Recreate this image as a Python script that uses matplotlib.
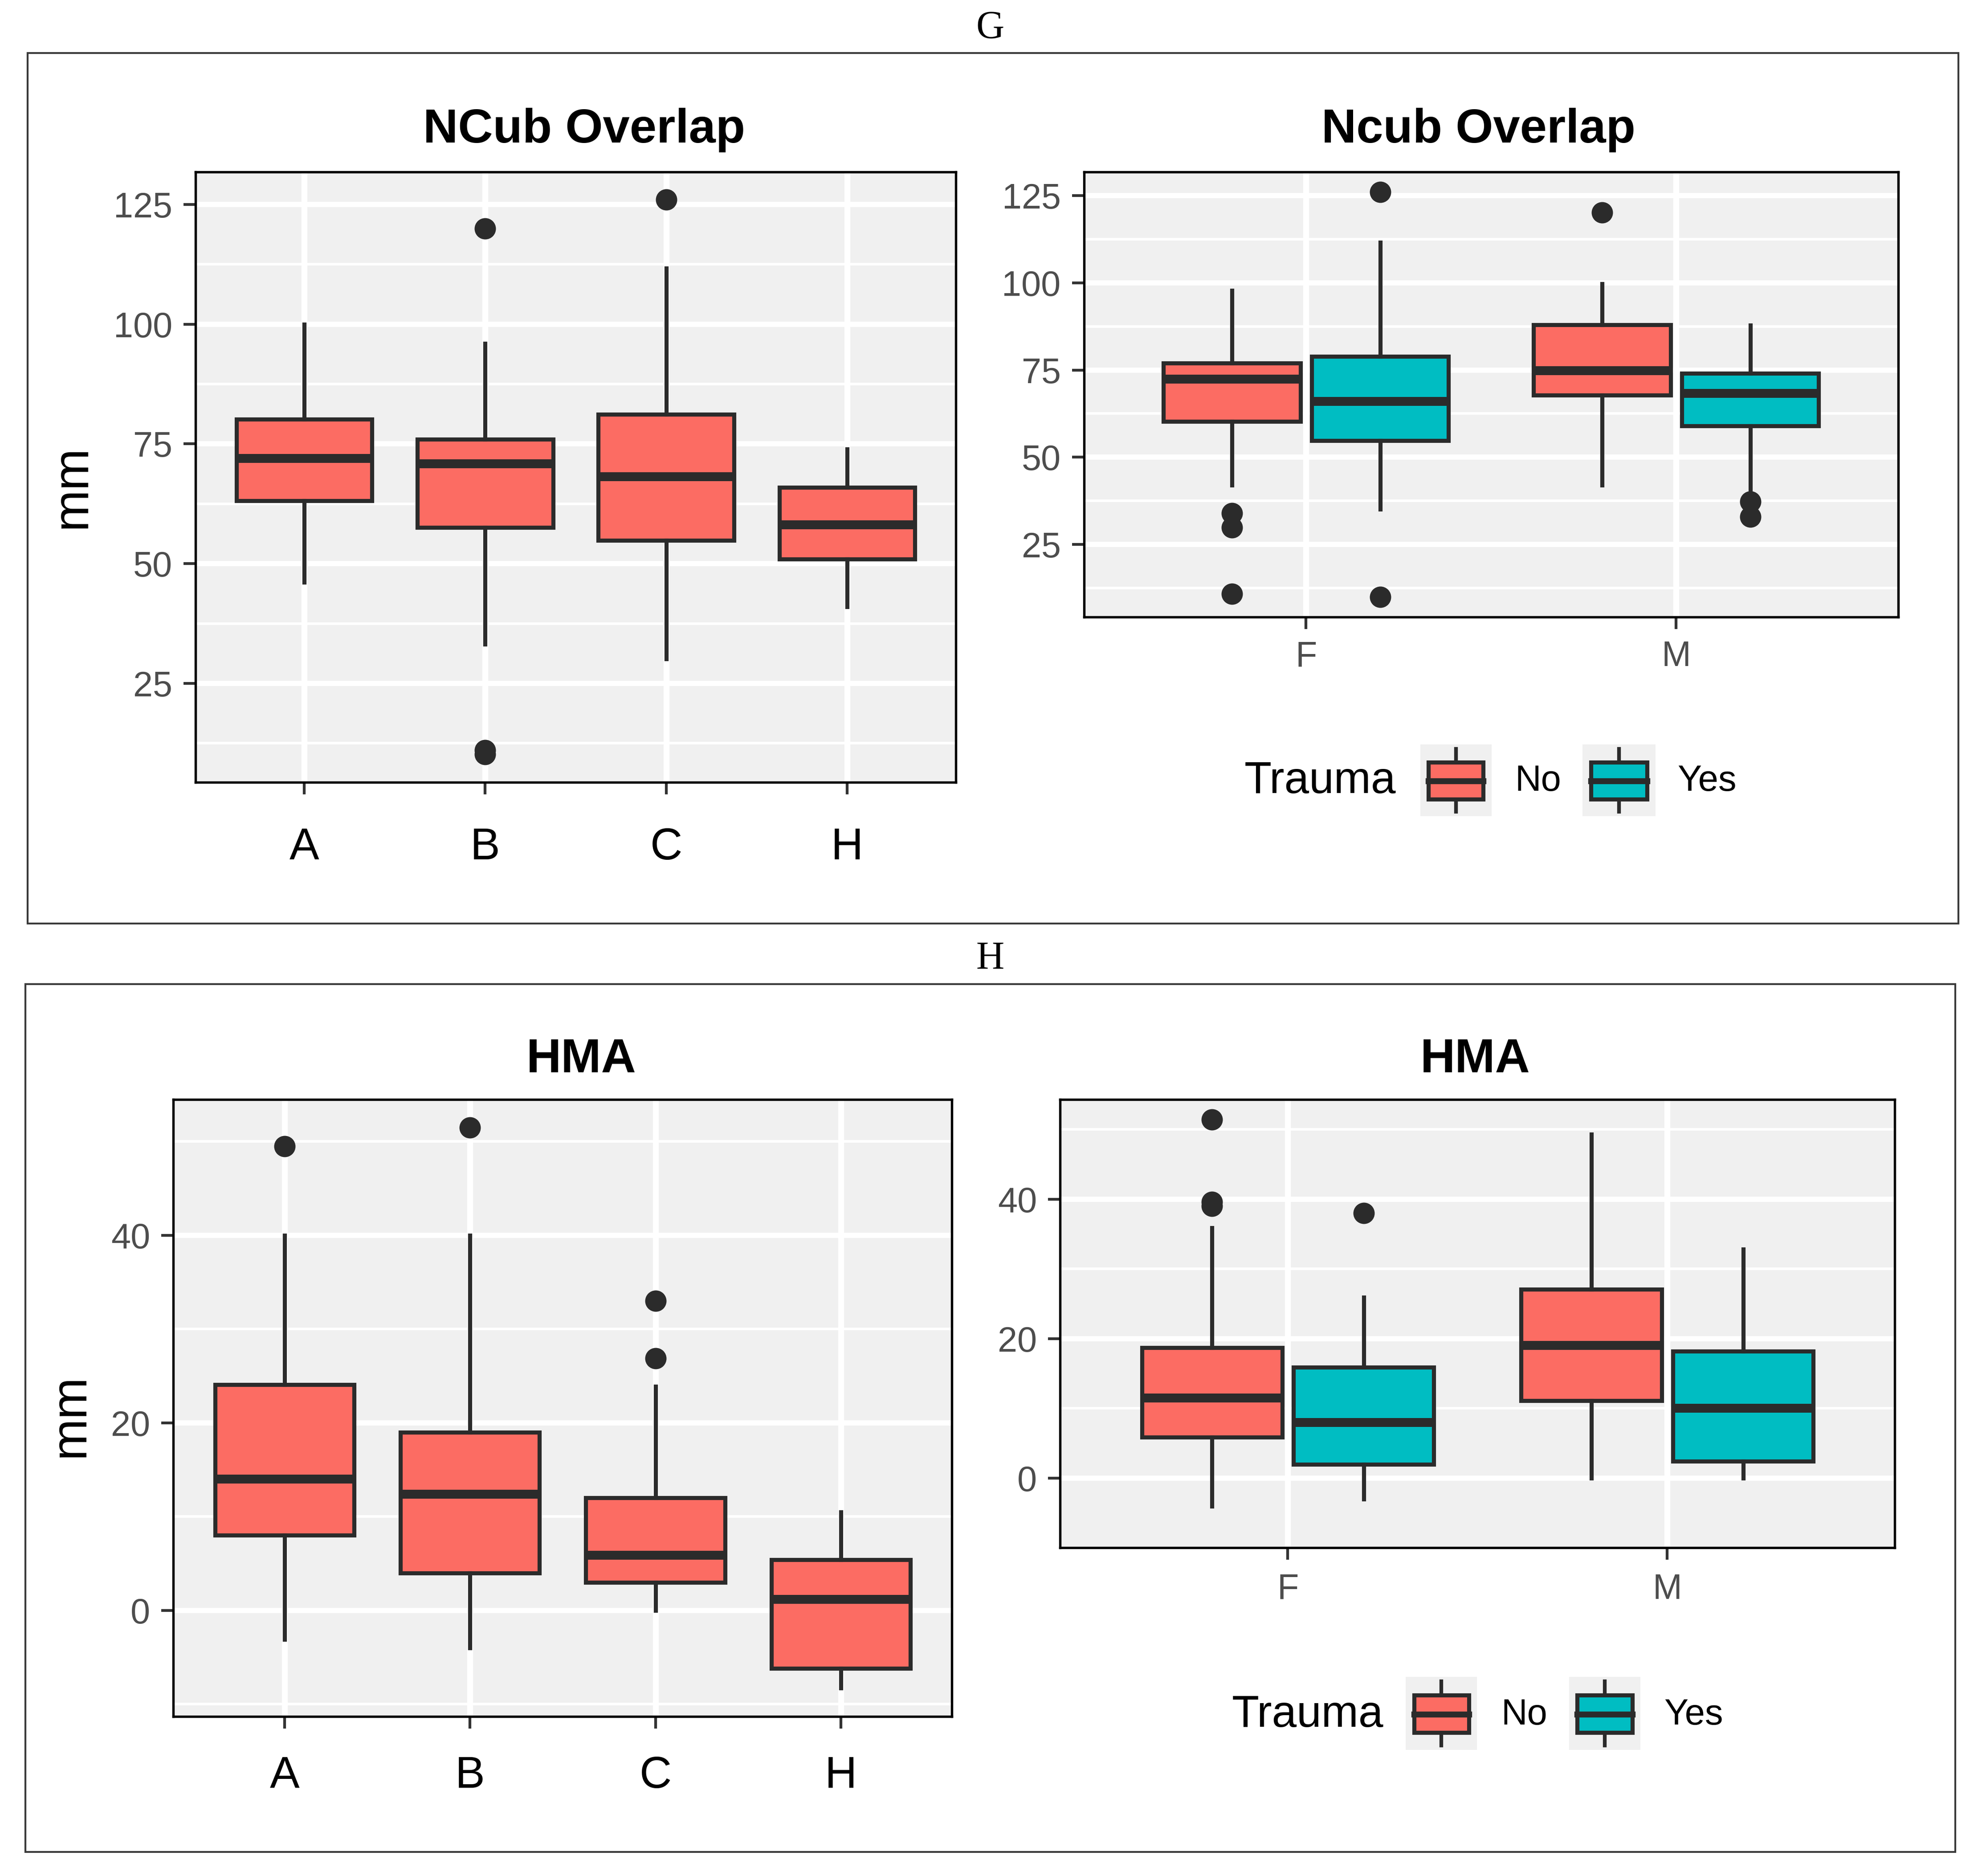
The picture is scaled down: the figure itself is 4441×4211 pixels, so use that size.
import matplotlib
matplotlib.use('agg')

import matplotlib.pyplot as plt
from matplotlib.patches import Rectangle
from matplotlib.lines import Line2D

plt.rcParams['font.family'] = ['Liberation Sans', 'DejaVu Sans']

groups = ['A', 'B', 'C', 'H']
sexes = ['F', 'M']
trauma_levels = ['No', 'Yes']

# five-number summaries: [whisker low, q1, median, q3, whisker high]
ncub_grp = [[46.1, 63.1, 72.0, 80.2, 100.0],
            [33.2, 57.6, 70.9, 76.0, 96.0],
            [30.1, 54.9, 68.2, 81.2, 111.7],
            [41.0, 51.0, 58.1, 65.9, 73.9]]
ncub_grp_out = [[], [120.0, 11.1, 10.2], [126.0], []]

ncub_no = [[42.0, 60.2, 72.4, 77.0, 97.8],     # F, M
           [42.0, 67.8, 74.8, 88.0, 99.7]]
ncub_yes = [[35.1, 54.8, 66.0, 78.9, 111.6],
            [39.0, 59.0, 68.3, 74.0, 87.8]]
ncub_no_out = [[34.0, 29.9, 10.8], [120.1]]
ncub_yes_out = [[126.0, 10.0], [37.3, 32.9]]

hma_grp = [[-3.1, 8.0, 14.0, 24.1, 40.0],
           [-4.0, 4.0, 12.4, 19.0, 40.0],
           [0.0, 3.0, 5.9, 12.0, 23.9],
           [-8.3, -6.2, 1.2, 5.4, 10.5]]
hma_grp_out = [[49.5], [51.5], [33.0, 26.9], []]

hma_no = [[-4.0, 5.9, 11.5, 18.7, 35.9],
          [0.0, 11.1, 19.0, 27.1, 49.3]]
hma_yes = [[-3.0, 2.0, 8.0, 15.9, 25.9],
           [0.0, 2.4, 10.0, 18.2, 32.8]]
hma_no_out = [[51.4, 39.6, 39.0], []]
hma_yes_out = [[38.0], []]

RED = '#FC6C63'
TEAL = '#00BDC2'
PANEL = '#f0f0f0'
EDGE = '#2b2b2b'


def stats_from(summaries, outliers):
    out = []
    for s, o in zip(summaries, outliers):
        out.append(dict(whislo=s[0], q1=s[1], med=s[2], q3=s[3], whishi=s[4], fliers=o))
    return out


def draw_boxes(ax, summaries, outliers, positions, width, color):
    ax.bxp(stats_from(summaries, outliers), positions=positions, widths=width,
           patch_artist=True, showcaps=False, manage_ticks=False,
           boxprops=dict(facecolor=color, edgecolor=EDGE, linewidth=2.2),
           medianprops=dict(color=EDGE, linewidth=4.8, solid_capstyle='butt'),
           whiskerprops=dict(color=EDGE, linewidth=2.2),
           flierprops=dict(marker='o', markersize=10.5, markerfacecolor=EDGE,
                           markeredgecolor=EDGE))


def style_panel(ax, ylim, majors, minors, xticks, xlabels, big_x, xpad):
    ax.set_facecolor(PANEL)
    ax.set_ylim(ylim)
    ax.set_yticks(majors)
    ax.set_yticks(minors, minor=True)
    ax.set_xticks(xticks)
    ax.set_xticklabels(xlabels)
    ax.grid(which='major', axis='y', color='white', lw=2.8)
    ax.grid(which='minor', axis='y', color='white', lw=1.4)
    ax.grid(which='major', axis='x', color='white', lw=3.2)
    ax.set_axisbelow(True)
    for sp in ax.spines.values():
        sp.set_linewidth(1.3)
        sp.set_color('black')
    ax.tick_params(axis='both', which='major', length=6.5, width=1.5, color='#333333')
    ax.tick_params(axis='y', labelsize=19, labelcolor='#4d4d4d', pad=6)
    ax.tick_params(axis='y', which='minor', length=0)
    if big_x:
        ax.tick_params(axis='x', labelsize=24, labelcolor='black', pad=xpad)
    else:
        ax.tick_params(axis='x', labelsize=19, labelcolor='#4d4d4d', pad=xpad)


def draw_key(fig, rect, color):
    kax = fig.add_axes(rect)
    kax.set_facecolor(PANEL)
    kax.set_xticks([])
    kax.set_yticks([])
    for sp in kax.spines.values():
        sp.set_visible(False)
    kax.set_xlim(0, 1)
    kax.set_ylim(0, 1)
    kax.add_line(Line2D([0.5, 0.5], [0.06, 0.94], color=EDGE, lw=2.0))
    kax.add_patch(Rectangle((0.115, 0.235), 0.77, 0.515, facecolor=color,
                            edgecolor=EDGE, lw=2.2, zorder=3))
    kax.add_line(Line2D([0.115, 0.885], [0.49, 0.49], color=EDGE, lw=3.2, zorder=4))


def draw_legend(fig, x_title, y, key1, key2, x_no, x_yes):
    fig.text(x_title, y, 'Trauma', fontsize=24, ha='left', va='center')
    draw_key(fig, key1, RED)
    draw_key(fig, key2, TEAL)
    fig.text(x_no, y, trauma_levels[0], fontsize=19.5, ha='left', va='center')
    fig.text(x_yes, y, trauma_levels[1], fontsize=19.5, ha='left', va='center')


fig = plt.figure(figsize=(4441 / 300, 4211 / 300), dpi=300)

# outer frames and panel letters
for (x0, y0, x1, y1) in [(0.014, 0.5077, 0.990, 0.9717), (0.0128, 0.0128, 0.9885, 0.4754)]:
    fig.add_artist(Rectangle((x0, y0), x1 - x0, y1 - y0, transform=fig.transFigure,
                             fill=False, edgecolor='#3a3a3a', lw=1.0))
fig.text(0.5006, 0.985, 'G', family=['Liberation Serif', 'DejaVu Serif'], fontsize=21,
         ha='center', va='center')
fig.text(0.5006, 0.489, 'H', family=['Liberation Serif', 'DejaVu Serif'], fontsize=21,
         ha='center', va='center')

grp_pos = list(range(1, len(groups) + 1))
sex_pos = list(range(1, len(sexes) + 1))
dodge = 0.2

# G left
ax1 = fig.add_axes([0.0989, 0.5831, 0.4832 - 0.0989, 0.9084 - 0.5831])
draw_boxes(ax1, ncub_grp, ncub_grp_out, grp_pos, 0.75, RED)
ax1.set_xlim(0.4, 4.6)
style_panel(ax1, (4.4, 131.8), [25, 50, 75, 100, 125], [12.5, 37.5, 62.5, 87.5, 112.5],
            grp_pos, groups, True, 17.5)
fig.text(0.2953, 0.9307, 'NCub Overlap', fontsize=26, fontweight='bold', ha='center', va='center')
fig.text(0.0367, 0.7405, 'mm', fontsize=27, rotation=90, ha='center', va='center')

# G right
ax2 = fig.add_axes([0.548, 0.6711, 0.9597 - 0.548, 0.9084 - 0.6711])
draw_boxes(ax2, ncub_no, ncub_no_out, [p - dodge for p in sex_pos], 0.37, RED)
draw_boxes(ax2, ncub_yes, ncub_yes_out, [p + dodge for p in sex_pos], 0.37, TEAL)
ax2.set_xlim(0.4, 2.6)
style_panel(ax2, (4.2, 131.8), [25, 50, 75, 100, 125], [12.5, 37.5, 62.5, 87.5, 112.5],
            sex_pos, sexes, False, 6)
fig.text(0.7474, 0.9307, 'Ncub Overlap', fontsize=26, fontweight='bold', ha='center', va='center')
draw_legend(fig, 0.629, 0.5834, [0.718, 0.565, 0.036, 0.0382], [0.800, 0.565, 0.037, 0.0382],
            0.766, 0.848)

# H left
ax3 = fig.add_axes([0.0877, 0.0851, 0.4813 - 0.0877, 0.414 - 0.0851])
draw_boxes(ax3, hma_grp, hma_grp_out, grp_pos, 0.75, RED)
ax3.set_xlim(0.4, 4.6)
style_panel(ax3, (-11.3, 54.5), [0, 20, 40], [-10, 10, 30, 50],
            grp_pos, groups, True, 14.5)
fig.text(0.2939, 0.4351, 'HMA', fontsize=26, fontweight='bold', ha='center', va='center')
fig.text(0.0358, 0.2455, 'mm', fontsize=27, rotation=90, ha='center', va='center')

# H right
ax4 = fig.add_axes([0.536, 0.1749, 0.958 - 0.536, 0.414 - 0.1749])
draw_boxes(ax4, hma_no, hma_no_out, [p - dodge for p in sex_pos], 0.37, RED)
draw_boxes(ax4, hma_yes, hma_yes_out, [p + dodge for p in sex_pos], 0.37, TEAL)
ax4.set_xlim(0.4, 2.6)
style_panel(ax4, (-6.8, 54.3), [0, 20, 40], [-10, 10, 30, 50],
            sex_pos, sexes, False, 7)
fig.text(0.7458, 0.4351, 'HMA', fontsize=26, fontweight='bold', ha='center', va='center')
draw_legend(fig, 0.6227, 0.0857, [0.7107, 0.0672, 0.036, 0.039], [0.7933, 0.0672, 0.036, 0.039],
            0.7589, 0.8412)

fig.savefig('out.png', dpi=300, facecolor='white')
